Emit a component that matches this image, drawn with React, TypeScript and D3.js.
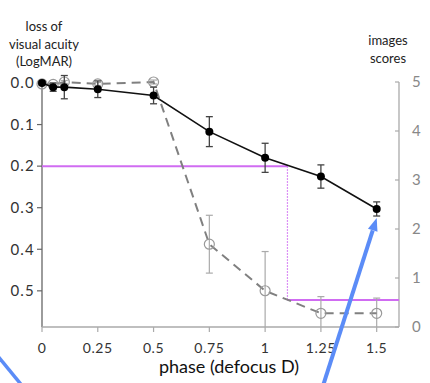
import React from "react";
import * as d3 from "d3";

const phases = [0, 0.05, 0.1, 0.25, 0.5, 0.75, 1, 1.25, 1.5];
const acuity = [0.0, 0.01, 0.01, 0.015, 0.03, 0.117, 0.18, 0.225, 0.303];
const acuityErr = [0.004, 0.01, 0.028, 0.02, 0.02, 0.036, 0.035, 0.028, 0.017];

const scorePhases = [0, 0.05, 0.1, 0.25, 0.5, 0.75, 1, 1.25, 1.5];
const scores = [4.96, 4.95, 5.0, 4.96, 5.0, 1.69, 0.74, 0.28, 0.28];
const scoresErr = [0.03, 0.03, 0.03, 0.03, 0.04, 0.59, 0.8, 0.34, 0.31];

const xTicks = [0, 0.25, 0.5, 0.75, 1, 1.25, 1.5];
const xTickLabels = ["0", "0.25", "0.5", "0.75", "1", "1.25", "1.5"];
const yLeftTicks = [0, 0.1, 0.2, 0.3, 0.4, 0.5];
const yRightTicks = [0, 1, 2, 3, 4, 5];

const acuityThreshold = 0.2;
const crossPhase = 1.1;
const scoreThreshold = 0.55;

const FONT = "Lato, 'Open Sans', sans-serif";

export default function App() {
  const x = d3.scaleLinear().domain([0, 1.6]).range([42, 399]);
  const yL = d3.scaleLinear().domain([0, 0.587]).range([83, 327]);
  const yR = d3.scaleLinear().domain([0, 5]).range([327, 82]);

  const lineL = d3
    .line<number>()
    .x((_, i) => x(phases[i]))
    .y((d) => yL(d));
  const lineR = d3
    .line<number>()
    .x((_, i) => x(scorePhases[i]))
    .y((d) => yR(d));

  const magenta = "#d06cf2";
  const blue = "#5b8cf7";

  const lastI = phases.length - 1;
  const tipX = x(phases[lastI]);
  const tipY = yL(acuity[lastI]) + 9;
  const startX = 321;
  const startY = 392;
  const ang = Math.atan2(tipY - startY, tipX - startX);
  const hl = 13;
  const hw = 5;
  const bx = tipX - hl * Math.cos(ang);
  const by = tipY - hl * Math.sin(ang);
  const px = -Math.sin(ang);
  const py = Math.cos(ang);

  return (
    <svg
      width={430}
      height={383}
      style={{ position: "absolute", left: 0, top: 0, background: "#fff" }}
      fontFamily={FONT}
    >
      <rect width={430} height={383} fill="#fff" />
      <g fill="#222" fontSize={13} textAnchor="middle">
        <text x={44} y={31}>loss of</text>
        <text x={44} y={49}>visual acuity</text>
        <text x={44} y={66}>(LogMAR)</text>
        <text x={388} y={45}>images</text>
        <text x={388} y={63}>scores</text>
      </g>

      <line x1={42} x2={42} y1={yL(0)} y2={327} stroke="#666" strokeWidth={1.3} />
      {yLeftTicks.map((t) => (
        <g key={"yl" + t}>
          <line x1={37} x2={42} y1={yL(t)} y2={yL(t)} stroke="#666" strokeWidth={1.2} />
          <text
            x={35}
            y={yL(t)}
            dy="0.35em"
            textAnchor="end"
            fontSize={15}
            letterSpacing={1.2}
            fill="#333"
          >
            {t.toFixed(1)}
          </text>
        </g>
      ))}

      <line x1={42} x2={399} y1={327} y2={327} stroke="#aaa" strokeWidth={1.3} />
      {xTicks.map((t, i) => (
        <g key={"xt" + t}>
          <line x1={x(t)} x2={x(t)} y1={327} y2={332} stroke="#aaa" strokeWidth={1.2} />
          <text
            x={x(t)}
            y={353}
            textAnchor="middle"
            fontSize={14}
            letterSpacing={0.6}
            fill="#333"
          >
            {xTickLabels[i]}
          </text>
        </g>
      ))}
      <text x={229} y={373} textAnchor="middle" fontSize={18} fill="#111">
        phase (defocus D)
      </text>

      <line x1={399} x2={399} y1={yR(5)} y2={327} stroke="#aaa" strokeWidth={1.3} />
      {yRightTicks.map((t) => (
        <g key={"yr" + t}>
          <line x1={395} x2={399} y1={yR(t)} y2={yR(t)} stroke="#aaa" strokeWidth={1.2} />
          <text x={412} y={yR(t)} dy="0.35em" fontSize={15} fill="#888">
            {t}
          </text>
        </g>
      ))}

      <line
        x1={x(0)}
        x2={x(crossPhase)}
        y1={yL(acuityThreshold)}
        y2={yL(acuityThreshold)}
        stroke={magenta}
        strokeWidth={2}
      />
      <line
        x1={x(crossPhase)}
        x2={x(crossPhase)}
        y1={yL(acuityThreshold)}
        y2={yR(scoreThreshold)}
        stroke={magenta}
        strokeWidth={1.2}
        strokeDasharray="1.5,1.5"
      />
      <line
        x1={x(crossPhase)}
        x2={x(1.6)}
        y1={yR(scoreThreshold)}
        y2={yR(scoreThreshold)}
        stroke={magenta}
        strokeWidth={2}
      />

      {scores.map((v, i) => {
        const cx = x(scorePhases[i]);
        const lo = v - scoresErr[i];
        const clipped = lo < 0;
        const y1 = yR(v + scoresErr[i]);
        const y2 = yR(Math.max(0, lo));
        return (
          <g key={"se" + i} stroke="#aaa" strokeWidth={1.2}>
            <line x1={cx} x2={cx} y1={y1} y2={y2} />
            <line x1={cx - 3.5} x2={cx + 3.5} y1={y1} y2={y1} />
            {!clipped && <line x1={cx - 3.5} x2={cx + 3.5} y1={y2} y2={y2} />}
          </g>
        );
      })}
      <path
        d={lineR(scores) || ""}
        fill="none"
        stroke="#808080"
        strokeWidth={2}
        strokeDasharray="9,6"
      />
      {scores.map((v, i) => (
        <circle
          key={"sc" + i}
          cx={x(scorePhases[i])}
          cy={yR(v)}
          r={5}
          fill="none"
          stroke="#999"
          strokeWidth={1.2}
        />
      ))}

      {acuity.map((v, i) => {
        const cx = x(phases[i]);
        const y1 = yL(v - acuityErr[i]);
        const y2 = yL(v + acuityErr[i]);
        return (
          <g key={"ae" + i} stroke="#444" strokeWidth={1.3}>
            <line x1={cx} x2={cx} y1={y1} y2={y2} />
            <line x1={cx - 3.5} x2={cx + 3.5} y1={y1} y2={y1} />
            <line x1={cx - 3.5} x2={cx + 3.5} y1={y2} y2={y2} />
          </g>
        );
      })}
      <path d={lineL(acuity) || ""} fill="none" stroke="#111" strokeWidth={1.6} />
      {acuity.map((v, i) => (
        <circle key={"ac" + i} cx={x(phases[i])} cy={yL(v)} r={4} fill="#000" />
      ))}

      <line x1={-4} y1={354} x2={24} y2={388} stroke={blue} strokeWidth={3.5} />
      <line x1={startX} y1={startY} x2={bx} y2={by} stroke={blue} strokeWidth={4} />
      <polygon
        points={`${tipX},${tipY} ${bx + px * hw},${by + py * hw} ${bx - px * hw},${by - py * hw}`}
        fill={blue}
      />
    </svg>
  );
}
